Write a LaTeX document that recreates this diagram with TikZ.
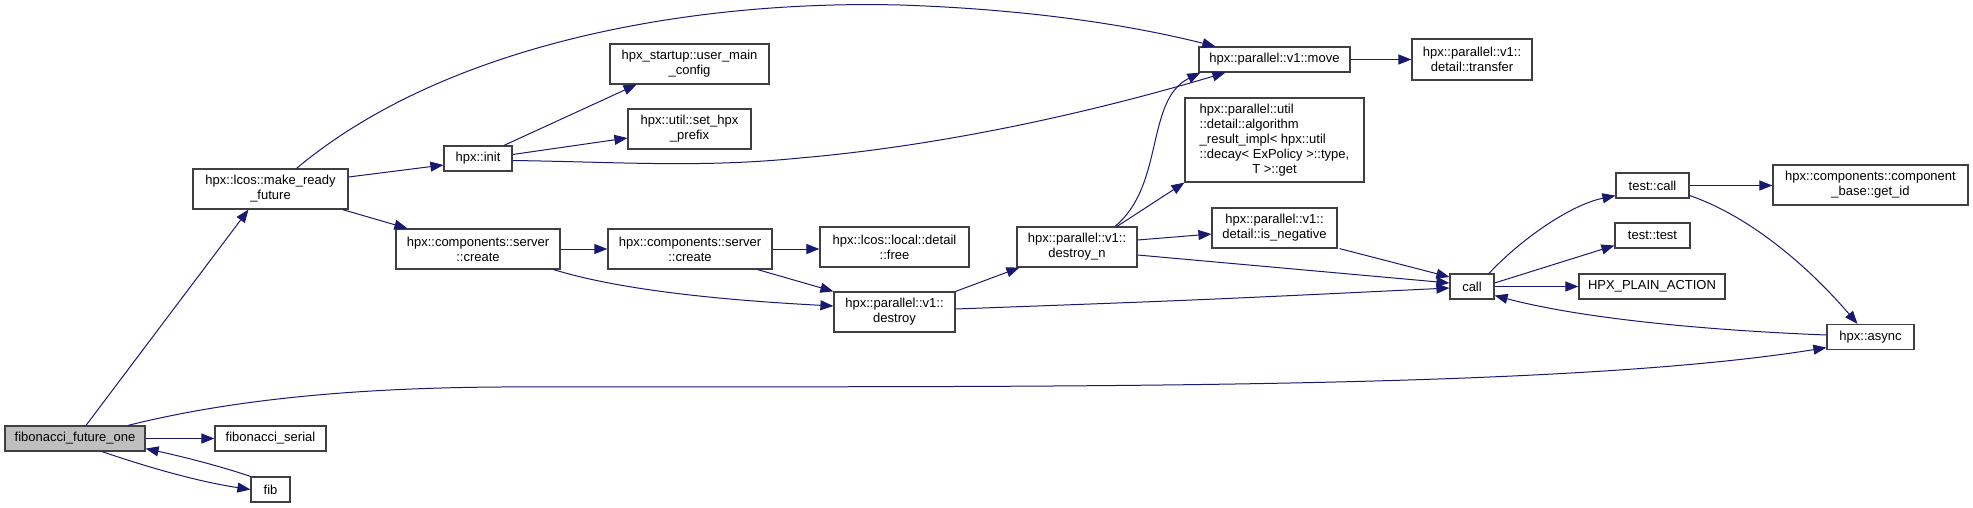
\documentclass[tikz,border=0pt]{standalone}
\usepackage{fontspec}
\setmainfont{Liberation Sans}
\usepackage{tikz}
\usetikzlibrary{arrows.meta}
\definecolor{edgeblue}{HTML}{191970}
\definecolor{boxline}{HTML}{404040}
\definecolor{boxgray}{HTML}{BFBFBF}

\begin{document}
\begin{tikzpicture}[x=1pt, y=-1pt,
  box/.style={draw=boxline, line width=1.2pt, fill=white, rectangle, inner sep=0pt,
    align=center, font=\fontsize{13}{15}\selectfont},
  edge/.style={draw=edgeblue, line width=1pt, -{Triangle[length=13pt,width=10pt,fill=edgeblue]}}]
\useasboundingbox (0,0) rectangle (1973,508);

\node[box, fill=boxgray, minimum width=140pt, minimum height=25pt] (FibOne) at (75,438.5) {fibonacci\_future\_one};
\node[box, minimum width=155pt, minimum height=40pt] (MakeReady) at (270.5,189) {hpx::lcos::make\_ready\\\_future};
\node[box, minimum width=111pt, minimum height=25pt] (FibSerial) at (270.5,438.5) {fibonacci\_serial};
\node[box, minimum width=39pt, minimum height=25pt] (Fib) at (270.5,489.5) {fib};
\node[box, minimum width=68pt, minimum height=25pt] (Init) at (478,158.5) {hpx::init};
\node[box, minimum width=159pt, minimum height=40pt] (MainConfig) at (689.5,64) {hpx\_startup::user\_main\\\_config};
\node[box, minimum width=123pt, minimum height=40pt] (SetPrefix) at (689.5,129) {hpx::util::set\_hpx\\\_prefix};
\node[box, minimum width=164pt, minimum height=40pt] (Create1) at (478,249) {hpx::components::server\\::create};
\node[box, minimum width=164pt, minimum height=40pt] (Create2) at (690,249) {hpx::components::server\\::create};
\node[box, minimum width=149pt, minimum height=40pt] (Free) at (894.5,247) {hpx::lcos::local::detail\\::free};
\node[box, minimum width=121pt, minimum height=40pt] (Destroy) at (894.5,312) {hpx::parallel::v1::\\destroy};
\node[box, minimum width=120pt, minimum height=40pt] (DestroyN) at (1077,247) {hpx::parallel::v1::\\destroy\_n};
\node[box, minimum width=151pt, minimum height=25pt] (Move) at (1274.5,59.5) {hpx::parallel::v1::move};
\node[box, minimum width=120pt, minimum height=41pt] (Transfer) at (1472,59.5) {hpx::parallel::v1::\\detail::transfer};
\node[box, minimum width=179pt, minimum height=84pt] (AlgoGet) at (1274.5,140) {\begin{tabular}{@{}l@{}}hpx::parallel::util\\::detail::algorithm\\\_result\_impl< hpx::util\\::decay< ExPolicy >::type,\\\multicolumn{1}{@{}c@{}}{T >::get}\end{tabular}};
\node[box, minimum width=125pt, minimum height=40pt] (IsNeg) at (1274.5,228) {hpx::parallel::v1::\\detail::is\_negative};
\node[box, minimum width=44pt, minimum height=25pt] (Call) at (1472,286.5) {call};
\node[box, minimum width=73pt, minimum height=25pt] (TestCall) at (1652.5,185.5) {test::call};
\node[box, minimum width=75pt, minimum height=25pt] (TestTest) at (1652.5,235.5) {test::test};
\node[box, minimum width=146pt, minimum height=25pt] (PlainAction) at (1652,286.5) {HPX\_PLAIN\_ACTION};
\node[box, minimum width=195pt, minimum height=40pt] (GetId) at (1870.5,185) {hpx::components::component\\\_base::get\_id};
\node[box, minimum width=87pt, minimum height=25pt] (Async) at (1870.5,337) {hpx::async};

% fibonacci_future_one
\draw[edge] ([xshift=11pt]FibOne.north) -- ([xshift=-22pt]MakeReady.south);
\draw[edge] (FibOne.east) -- (FibSerial.west);
\draw[edge] ([xshift=27pt]FibOne.south) .. controls (150,468) and (200,482) .. (Fib.west);
\draw[edge] (Fib.north west) .. controls (220,466) and (180,456) .. ([yshift=3pt]FibOne.south east);
\draw[edge] ([xshift=53pt]FibOne.north) .. controls (230,400) and (350,388) .. (500,387)
  .. controls (1000,386) and (1550,392) .. ([yshift=2.5pt]Async.south west);

% make_ready_future and init
\draw[edge] ([xshift=26pt]MakeReady.north) .. controls (450,40) and (700,0) .. (900,5)
  .. controls (1050,10) and (1150,30) .. ([xshift=17pt]Move.north west);
\draw[edge] ([yshift=12pt]MakeReady.east) -- ([yshift=-6.5pt]Init.west);
\draw[edge] ([xshift=-6pt]MakeReady.south east) -- ([xshift=12pt]Create1.north west);
\draw[edge] ([xshift=26pt]Init.north) -- ([xshift=-53pt]MainConfig.south);
\draw[edge] ([yshift=4pt]Init.east) -- ([yshift=-9pt]SetPrefix.west);
\draw[edge] ([yshift=-2pt]Init.east) .. controls (620,162) and (700,168) .. (800,158)
  .. controls (950,145) and (1100,110) .. ([xshift=27pt]Move.south west);

% create / destroy
\draw[edge] (Create1.east) -- (Create2.west);
\draw[edge] ([xshift=-7pt]Create1.south east) .. controls (620,290) and (720,300) .. ([yshift=6pt]Destroy.west);
\draw[edge] (Create2.east) -- (Create2.east -| Free.west);
\draw[edge] ([xshift=-15pt]Create2.south east) -- (Destroy.north west);
\draw[edge] (Destroy.north east) -- ([xshift=3pt]DestroyN.south west);
\draw[edge] ([yshift=3pt]Destroy.east) .. controls (1200,300) .. ([yshift=-1.5pt]Call.west);
\draw[edge] ([xshift=38pt]DestroyN.north) .. controls (1165,185) and (1145,100) .. ([xshift=2pt]Move.south west);
\draw[edge] ([xshift=40pt]DestroyN.north) -- (AlgoGet.south west);
\draw[edge] ([yshift=7pt]DestroyN.east) -- ([yshift=-6pt]IsNeg.west);
\draw[edge] ([yshift=-8pt]DestroyN.east) -- ([yshift=3.5pt]Call.west);
\draw[edge] ([xshift=2pt]IsNeg.south east) -- ([yshift=9.5pt]Call.west);
\draw[edge] (Move.east) -- (Transfer.west);

% call
\draw[edge] ([xshift=17pt]Call.north) .. controls (1520,240) and (1570,205) .. ([yshift=3pt]TestCall.south west);
\draw[edge] ([yshift=3.5pt]Call.east) -- ([yshift=-10pt]TestTest.west);
\draw[edge] (Call.east) -- (PlainAction.west);
\draw[edge] ([yshift=2pt]Async.west) .. controls (1700,330) and (1580,318) .. ([yshift=-9pt]Call.east);
\draw[edge] (TestCall.east) -- (TestCall.east -| GetId.west);
\draw[edge] ([yshift=-10pt]TestCall.east) .. controls (1760,220) and (1820,280) .. ([xshift=-13pt]Async.north);
\end{tikzpicture}
\end{document}
